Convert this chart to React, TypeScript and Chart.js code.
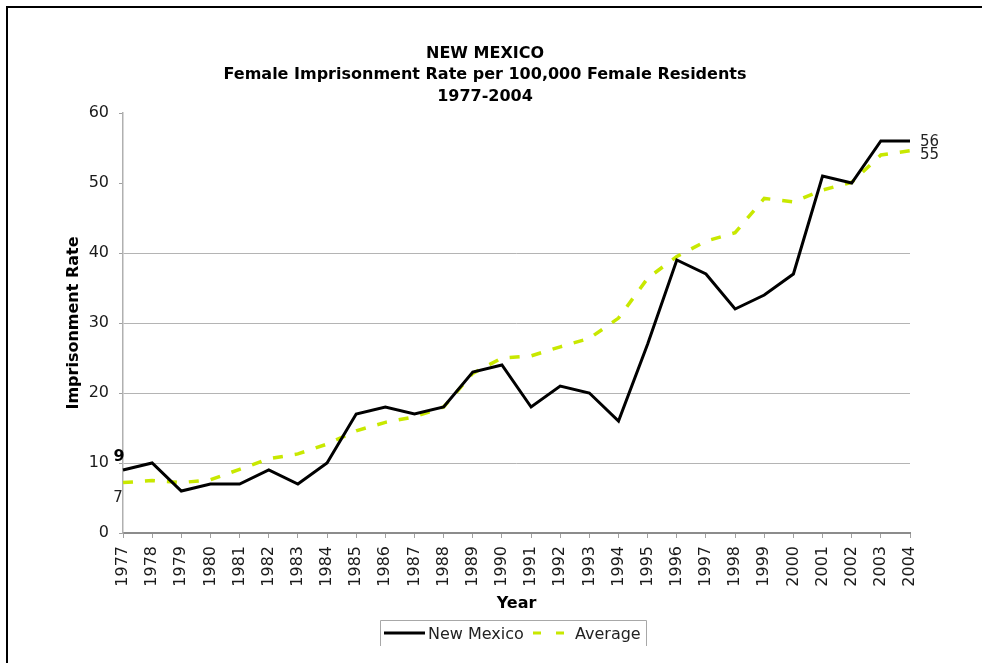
import React, { useEffect, useRef } from 'react';
import { Chart, registerables } from 'chart.js';

Chart.register(...registerables);

const years = ['1977', '1978', '1979', '1980', '1981', '1982', '1983', '1984', '1985', '1986', '1987', '1988', '1989', '1990', '1991', '1992', '1993', '1994', '1995', '1996', '1997', '1998', '1999', '2000', '2001', '2002', '2003', '2004'];
const newMexico = [9, 10, 6, 7, 7, 9, 7, 10, 17, 18, 17, 18, 23, 24, 18, 21, 20, 16, 27, 39, 37, 32, 34, 37, 51, 50, 56, 56];
const average = [7.2, 7.5, 7.2, 7.6, 9.1, 10.6, 11.3, 12.7, 14.6, 15.8, 16.6, 18.0, 22.8, 25.0, 25.3, 26.6, 27.8, 30.7, 36.4, 39.5, 41.7, 42.9, 47.8, 47.3, 49.0, 50.1, 54.0, 54.6];
const yTicks = [0, 10, 20, 30, 40, 50, 60];
const titleLines = ['NEW MEXICO', 'Female Imprisonment Rate per 100,000 Female Residents', '1977-2004'];
const seriesNames = ['New Mexico', 'Average'];
const xTitle = 'Year';
const yTitle = 'Imprisonment Rate';

const FONT = "'DejaVu Sans', Verdana, sans-serif";
const NM_COLOR = '#000000';
const AVG_COLOR = '#c8e800';

const decorPlugin = {
  id: 'decor',
  afterDraw(chart: any) {
    const ctx = chart.ctx;
    const xs = chart.scales.x;
    const ys = chart.scales.y;
    ctx.save();
    // page frame (top & left)
    ctx.fillStyle = '#000';
    ctx.fillRect(6, 6, 976, 2);
    ctx.fillRect(6, 6, 2, 657);

    // title
    ctx.fillStyle = '#000';
    ctx.font = `bold 16px ${FONT}`;
    ctx.textAlign = 'center';
    ctx.textBaseline = 'alphabetic';
    const tBase = [57.8, 79, 100.8];
    titleLines.forEach((t, i) => ctx.fillText(t, 485, tBase[i]));

    // end / start labels
    const last = years.length - 1;
    const x0 = xs.getPixelForValue(0);
    const xN = xs.getPixelForValue(last);
    ctx.font = `bold 16px ${FONT}`;
    ctx.textAlign = 'center';
    ctx.fillText(String(Math.round(newMexico[0])), x0 - 4, ys.getPixelForValue(newMexico[0]) - 8.7);
    ctx.font = `15px ${FONT}`;
    ctx.fillStyle = '#222';
    ctx.fillText(String(Math.round(average[0])), x0 - 5, ys.getPixelForValue(average[0]) + 19.2);
    ctx.textAlign = 'left';
    ctx.fillText(String(Math.round(newMexico[last])), xN + 10, ys.getPixelForValue(newMexico[last]) + 4.8);
    ctx.fillText(String(Math.round(average[last])), xN + 10, ys.getPixelForValue(average[last]) + 8);

    // legend
    ctx.strokeStyle = '#a8a8a8';
    ctx.lineWidth = 1;
    ctx.beginPath();
    ctx.moveTo(380.5, 646);
    ctx.lineTo(380.5, 620.5);
    ctx.lineTo(646.5, 620.5);
    ctx.lineTo(646.5, 646);
    ctx.stroke();

    const ds = chart.data.datasets;
    ctx.lineCap = 'butt';
    ctx.strokeStyle = ds[0].borderColor;
    ctx.lineWidth = 3;
    ctx.setLineDash([]);
    ctx.beginPath();
    ctx.moveTo(384, 633);
    ctx.lineTo(425, 633);
    ctx.stroke();

    ctx.strokeStyle = ds[1].borderColor;
    ctx.setLineDash([8, 15]);
    ctx.beginPath();
    ctx.moveTo(533, 633);
    ctx.lineTo(566, 633);
    ctx.stroke();
    ctx.setLineDash([]);

    ctx.fillStyle = '#222';
    ctx.font = `16px ${FONT}`;
    ctx.textAlign = 'left';
    ctx.fillText(ds[0].label, 428, 638.8);
    ctx.fillText(ds[1].label, 575, 638.8);
    ctx.restore();
  },
};

export default function App() {
  const ref = useRef<HTMLCanvasElement | null>(null);
  useEffect(() => {
    if (!ref.current) return;
    Chart.defaults.font.family = FONT;
    const chart = new Chart(ref.current, {
      type: 'line',
      data: {
        labels: years,
        datasets: [
          {
            label: seriesNames[0],
            data: newMexico,
            borderColor: NM_COLOR,
            backgroundColor: NM_COLOR,
            borderWidth: 3,
            pointRadius: 0,
            tension: 0,
            borderJoinStyle: 'miter',
          },
          {
            label: seriesNames[1],
            data: average,
            borderColor: AVG_COLOR,
            backgroundColor: AVG_COLOR,
            borderWidth: 3.5,
            borderDash: [10, 12],
            pointRadius: 0,
            tension: 0,
          },
        ],
      },
      options: {
        responsive: false,
        animation: false,
        layout: { padding: { top: 113, right: 72, bottom: 46, left: 0 } },
        plugins: {
          legend: { display: false },
          title: { display: false },
          tooltip: { enabled: false },
        },
        scales: {
          x: {
            type: 'category',
            offset: false,
            afterFit: (s: any) => { s.height = 84; },
            grid: { drawOnChartArea: false, tickLength: 5, color: '#a0a0a0' },
            border: { color: '#8c8c8c', width: 2 },
            ticks: {
              autoSkip: false,
              minRotation: 90,
              maxRotation: 90,
              padding: 8,
              color: '#1a1a1a',
              font: { size: 16, family: FONT },
            },
            title: {
              display: true,
              text: xTitle,
              color: '#000',
              font: { size: 16, weight: 'bold', family: FONT, lineHeight: 1.2 },
              padding: { top: 0, bottom: 4 },
            },
          },
          y: {
            min: yTicks[0],
            max: yTicks[yTicks.length - 1],
            afterFit: (s: any) => { s.width = 123; },
            afterBuildTicks: (s: any) => { s.ticks = yTicks.map((v) => ({ value: v })); },
            grid: {
              color: (c: any) => (c.tick && c.tick.value >= 10 && c.tick.value <= 40 ? '#b4b4b4' : 'rgba(0,0,0,0)'),
              tickColor: '#a0a0a0',
              tickLength: 4,
              lineWidth: 1,
            },
            border: { color: '#b0b0b0', width: 1.5 },
            ticks: {
              padding: 10,
              color: '#1a1a1a',
              font: { size: 16, family: FONT },
            },
            title: {
              display: true,
              text: yTitle,
              color: '#000',
              font: { size: 16, weight: 'bold', family: FONT, lineHeight: 1.2 },
              padding: { top: 64, bottom: 0 },
            },
          },
        },
      },
      plugins: [decorPlugin],
    } as any);
    return () => chart.destroy();
  }, []);

  return (
    <div style={{ position: 'fixed', left: 0, top: 0, width: 982, height: 663, background: '#fff' }}>
      <canvas ref={ref} width={982} height={663} style={{ display: 'block' }} />
    </div>
  );
}
